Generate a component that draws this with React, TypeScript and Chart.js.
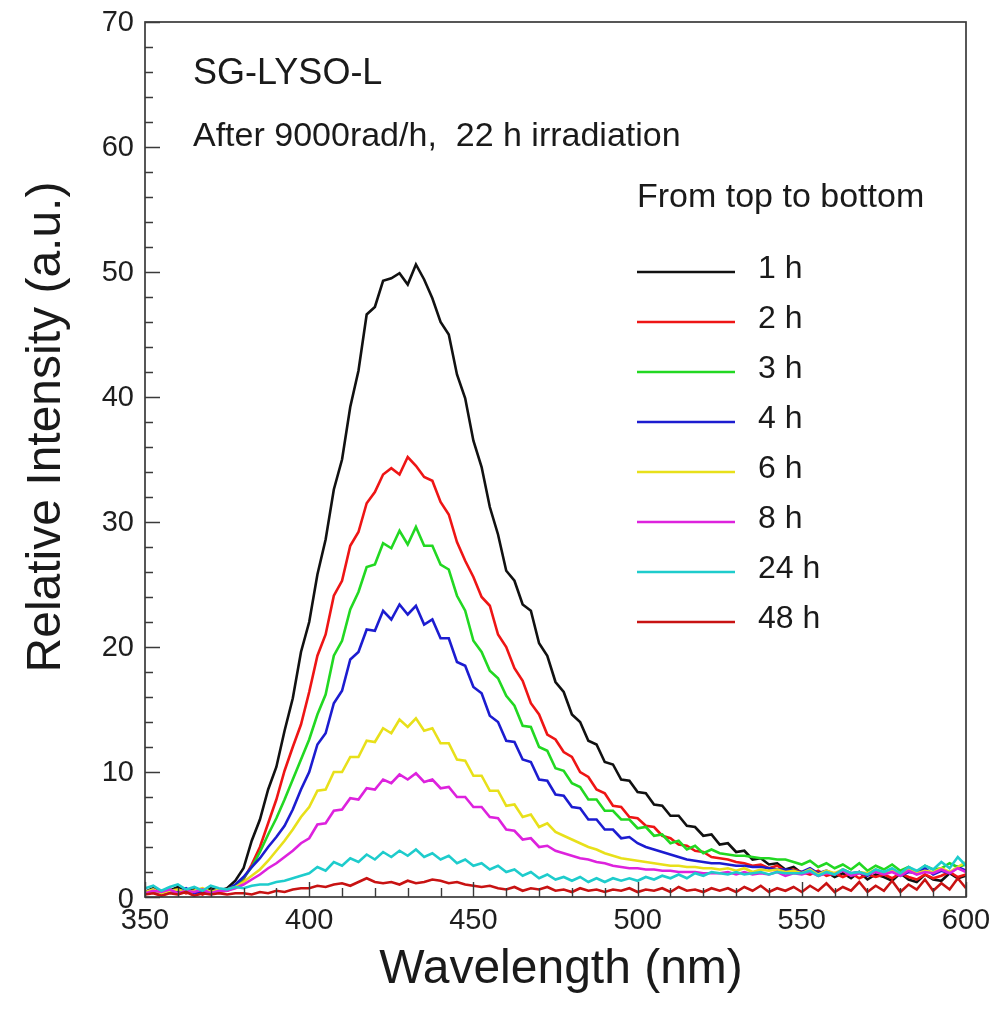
import React, { useEffect, useRef } from "react";
import { Chart, registerables } from "chart.js";

Chart.register(...registerables);

// Sampling grid (nm)
const wavelengths = [
  350, 352.5, 355, 357.5, 360, 362.5, 365, 367.5, 370, 372.5,
  375, 377.5, 380, 382.5, 385, 387.5, 390, 392.5, 395, 397.5,
  400, 402.5, 405, 407.5, 410, 412.5, 415, 417.5, 420, 422.5,
  425, 427.5, 430, 432.5, 435, 437.5, 440, 442.5, 445, 447.5,
  450, 452.5, 455, 457.5, 460, 462.5, 465, 467.5, 470, 472.5,
  475, 477.5, 480, 482.5, 485, 487.5, 490, 492.5, 495, 497.5,
  500, 502.5, 505, 507.5, 510, 512.5, 515, 517.5, 520, 522.5,
  525, 527.5, 530, 532.5, 535, 537.5, 540, 542.5, 545, 547.5,
  550, 552.5, 555, 557.5, 560, 562.5, 565, 567.5, 570, 572.5,
  575, 577.5, 580, 582.5, 585, 587.5, 590, 592.5, 595, 597.5, 600,
];

const h1 = [
  0.4, 0.7, 0.3, 0.5, 0.8, 0.4, 0.6, 0.3, 0.7, 0.5,
  0.7, 1.3, 2.3, 4.5, 6.2, 8.6, 10.4, 13.3, 15.9, 19.6,
  22.0, 25.8, 28.6, 32.6, 35.0, 39.2, 42.1, 46.6, 47.2, 49.3,
  49.5, 49.9, 49.0, 50.6, 49.4, 47.9, 46.0, 45.0, 41.8, 39.9,
  36.5, 34.4, 31.2, 29.0, 26.1, 25.3, 23.4, 22.9, 20.3, 19.3,
  17.2, 16.4, 14.6, 14.0, 12.5, 12.2, 10.8, 10.6, 9.4, 9.3,
  8.4, 8.3, 7.4, 7.3, 6.5, 6.5, 5.7, 5.6, 4.9, 5.0,
  4.2, 4.3, 3.6, 3.7, 3.0, 3.1, 2.6, 2.7, 2.2, 2.4,
  1.9, 2.2, 1.7, 2.0, 1.6, 1.9, 1.5, 2.0, 1.4, 1.8,
  1.6, 1.3, 1.9, 1.4, 1.2, 1.8, 1.4, 1.3, 1.9, 1.5, 1.7,
];

const h2 = [
  0.3, 0.5, 0.2, 0.4, 0.6, 0.3, 0.5, 0.2, 0.5, 0.4,
  0.5, 0.8, 1.4, 2.6, 4.0, 5.9, 7.8, 10.1, 12.0, 13.8,
  16.4, 19.3, 21.0, 24.1, 25.3, 28.1, 29.2, 31.5, 32.4, 33.8,
  34.3, 33.8, 35.2, 34.5, 33.6, 33.3, 31.6, 30.6, 28.4, 26.9,
  25.6, 24.0, 23.3, 21.0, 20.0, 18.3, 17.3, 15.5, 14.6, 13.0,
  12.6, 11.6, 11.2, 10.0, 9.6, 8.6, 8.3, 7.3, 7.2, 6.4,
  6.3, 5.7, 5.6, 4.9, 4.7, 4.2, 4.1, 3.7, 3.6, 3.2,
  3.1, 3.0, 2.8, 2.7, 2.5, 2.6, 2.3, 2.5, 2.1, 2.2,
  2.0, 1.8, 2.1, 1.7, 1.9, 1.6, 1.9, 1.5, 1.8, 1.6,
  1.8, 1.5, 1.9, 1.6, 1.4, 1.8, 1.5, 1.7, 2.0, 1.6, 1.8,
];

const h3 = [
  0.3, 0.5, 0.4, 0.6, 0.3, 0.5, 0.4, 0.6, 0.3, 0.5,
  0.6, 0.9, 1.5, 2.4, 3.6, 5.0, 6.3, 7.8, 9.4, 11.0,
  12.6, 14.6, 16.2, 19.3, 20.5, 23.0, 24.4, 26.4, 26.6, 28.3,
  27.9, 29.3, 28.2, 29.6, 28.1, 28.1, 26.6, 26.2, 24.1, 22.9,
  20.5, 19.6, 18.1, 17.5, 16.1, 15.3, 13.7, 13.6, 12.0, 11.7,
  10.3, 10.1, 9.1, 8.8, 7.8, 7.8, 6.9, 6.9, 6.2, 6.2,
  5.5, 5.6, 4.9, 5.0, 4.3, 4.5, 3.8, 4.1, 3.5, 3.8,
  3.5, 3.4, 3.3, 3.3, 3.2, 3.1, 3.1, 3.0, 3.0, 2.8,
  2.6, 2.9, 2.4, 2.7, 2.3, 2.6, 2.2, 2.7, 2.1, 2.5,
  2.2, 2.6, 2.1, 2.4, 2.0, 2.5, 2.2, 2.3, 2.7, 2.4, 2.6,
];

const h4 = [
  0.4, 0.6, 0.3, 0.5, 0.4, 0.7, 0.3, 0.5, 0.4, 0.6,
  0.6, 1.0, 1.6, 2.4, 3.1, 4.0, 4.8, 5.7, 7.0, 8.6,
  10.0, 12.2, 13.1, 15.5, 16.5, 19.0, 19.6, 21.4, 21.3, 22.9,
  22.2, 23.4, 22.6, 23.3, 21.8, 22.2, 20.7, 20.7, 18.8, 18.5,
  16.8, 16.3, 14.5, 14.0, 12.5, 12.4, 11.0, 10.8, 9.4, 9.3,
  8.2, 8.1, 7.2, 7.1, 6.2, 6.2, 5.4, 5.4, 4.7, 4.8,
  4.3, 4.0, 3.8, 3.6, 3.4, 3.2, 3.0, 2.9, 2.8, 2.7,
  2.7, 2.6, 2.5, 2.5, 2.4, 2.4, 2.3, 2.2, 2.2, 2.1,
  2.0, 2.3, 1.9, 2.1, 1.8, 2.2, 1.9, 2.0, 1.7, 2.1,
  1.9, 2.2, 1.7, 2.0, 1.9, 2.3, 1.8, 2.1, 1.9, 2.4, 2.1,
];

const h6 = [
  0.4, 0.6, 0.3, 0.5, 0.6, 0.4, 0.5, 0.7, 0.4, 0.6,
  0.6, 0.8, 1.2, 1.7, 2.2, 2.9, 3.7, 4.5, 5.4, 6.4,
  7.2, 8.5, 8.6, 10.0, 10.0, 11.2, 11.2, 12.5, 12.4, 13.5,
  13.1, 14.2, 13.6, 14.3, 13.3, 13.5, 12.3, 12.3, 11.0, 10.9,
  9.7, 9.7, 8.5, 8.5, 7.3, 7.4, 6.4, 6.6, 5.6, 5.9,
  5.2, 4.9, 4.6, 4.3, 4.0, 3.8, 3.5, 3.3, 3.1, 3.0,
  2.9, 2.8, 2.7, 2.6, 2.5, 2.5, 2.4, 2.4, 2.3, 2.3,
  2.2, 2.3, 2.1, 2.3, 2.0, 2.2, 2.1, 2.2, 2.0, 2.1,
  1.9, 2.2, 1.8, 2.1, 1.9, 2.2, 1.8, 2.0, 1.9, 2.2,
  1.9, 2.1, 1.8, 2.2, 1.9, 2.1, 2.0, 2.3, 2.0, 2.4, 2.8,
];

const h8 = [
  0.3, 0.5, 0.4, 0.6, 0.3, 0.5, 0.4, 0.6, 0.3, 0.5,
  0.5, 0.7, 1.0, 1.4, 1.8, 2.3, 2.7, 3.2, 3.7, 4.3,
  4.7, 5.8, 5.9, 6.9, 7.0, 7.9, 7.8, 8.7, 8.6, 9.4,
  9.1, 9.8, 9.4, 9.9, 9.2, 9.4, 8.7, 8.8, 8.0, 8.0,
  7.2, 7.2, 6.4, 6.3, 5.4, 5.3, 4.6, 4.7, 4.0, 4.1,
  3.7, 3.5, 3.3, 3.1, 3.0, 2.8, 2.7, 2.5, 2.4, 2.3,
  2.3, 2.2, 2.2, 2.1, 2.1, 2.0, 2.0, 2.0, 1.9, 1.9,
  1.9, 2.0, 1.8, 2.0, 1.8, 1.9, 1.8, 2.0, 1.7, 1.9,
  1.8, 2.0, 1.7, 1.9, 1.8, 2.1, 1.7, 1.9, 1.8, 2.0,
  1.8, 2.0, 1.7, 2.1, 1.8, 2.0, 1.9, 2.2, 1.9, 2.3, 2.0,
];

const h24 = [
  0.7, 0.9, 0.5, 0.8, 1.0, 0.6, 0.8, 0.5, 0.9, 0.7,
  0.6, 0.8, 0.7, 0.9, 1.0, 1.0, 1.2, 1.3, 1.5, 1.7,
  1.9, 2.4, 2.1, 2.8, 2.5, 3.1, 2.8, 3.4, 3.0, 3.6,
  3.2, 3.7, 3.3, 3.8, 3.2, 3.5, 3.0, 3.3, 2.7, 3.0,
  2.5, 2.7, 2.2, 2.5, 2.0, 2.2, 1.7, 2.0, 1.5, 1.8,
  1.4, 1.6, 1.3, 1.6, 1.2, 1.5, 1.2, 1.5, 1.3, 1.5,
  1.3, 1.6, 1.4, 1.7, 1.5, 1.8, 1.5, 1.9, 1.7, 2.0,
  1.9, 1.8, 2.0, 1.8, 1.9, 2.0, 1.8, 2.0, 1.9, 1.9,
  1.9, 2.1, 1.7, 2.0, 1.8, 2.2, 1.9, 2.0, 1.8, 2.2,
  2.0, 2.3, 1.9, 2.4, 2.1, 2.5, 2.2, 2.8, 2.3, 3.2, 2.5,
];

const h48 = [
  0.2, 0.3, 0.1, 0.3, 0.2, 0.4, 0.1, 0.3, 0.2, 0.3,
  0.2, 0.3, 0.3, 0.2, 0.4, 0.3, 0.5, 0.4, 0.6, 0.7,
  0.7, 0.9, 0.8, 1.0, 1.1, 0.9, 1.2, 1.5, 1.2, 1.1,
  1.2, 1.0, 1.3, 1.1, 1.2, 1.4, 1.3, 1.1, 1.2, 1.0,
  0.9, 0.8, 0.9, 0.7, 0.6, 0.8, 0.5, 0.7, 0.6, 0.8,
  0.5, 0.6, 0.4, 0.7, 0.5, 0.6, 0.4, 0.6, 0.5, 0.7,
  0.4, 0.6, 0.5, 0.7, 0.4, 0.8, 0.5, 0.6, 0.4, 0.7,
  0.5, 0.7, 0.4, 0.8, 0.5, 0.9, 0.4, 0.7, 0.5, 0.8,
  0.4, 0.9, 0.5, 1.1, 0.4, 0.8, 0.5, 1.2, 0.4, 0.9,
  0.5, 1.3, 0.4, 1.0, 0.6, 1.4, 0.5, 1.1, 0.6, 1.5, 0.7,
];

const seriesNames = ["1 h", "2 h", "3 h", "4 h", "6 h", "8 h", "24 h", "48 h"];
const seriesValues = [h1, h2, h3, h4, h6, h8, h24, h48];
const seriesColors = [
  "#111111",
  "#ee1515",
  "#22d822",
  "#1c1cd0",
  "#e8e01a",
  "#dd22dd",
  "#1ecccc",
  "#c81212",
];

const xTickValues = [350, 400, 450, 500, 550, 600];
const yTickValues = [0, 10, 20, 30, 40, 50, 60, 70];

const titleText = "SG-LYSO-L";
const subtitleText = "After 9000rad/h,  22 h irradiation";
const legendTitle = "From top to bottom";
const xTitle = "Wavelength (nm)";
const yTitle = "Relative Intensity (a.u.)";

const FONT = "'Liberation Sans', Arial, Helvetica, sans-serif";

const decorPlugin = {
  id: "decor",
  afterDatasetsDraw(chart: any) {
    const { ctx, chartArea: a, scales } = chart;
    const xs = scales.x;
    const ys = scales.y;
    ctx.save();

    // frame
    ctx.strokeStyle = "#3a3a3a";
    ctx.lineWidth = 1.7;
    ctx.strokeRect(a.left, a.top, a.right - a.left, a.bottom - a.top);

    // y ticks (inside)
    ctx.lineWidth = 1.4;
    ctx.beginPath();
    for (let v = 0; v <= 70; v += 2) {
      const py = Math.round(ys.getPixelForValue(v)) + 0.5;
      const len = v % 10 === 0 ? 15 : 8;
      ctx.moveTo(a.left, py);
      ctx.lineTo(a.left + len, py);
    }
    // x ticks (inside)
    for (let w = 350; w <= 600; w += 10) {
      const px = Math.round(xs.getPixelForValue(w)) + 0.5;
      const len = w % 50 === 0 ? 15 : 9;
      ctx.moveTo(px, a.bottom);
      ctx.lineTo(px, a.bottom - len);
    }
    ctx.stroke();

    // tick labels
    ctx.fillStyle = "#1e1e1e";
    ctx.font = `29px ${FONT}`;
    ctx.textAlign = "right";
    ctx.textBaseline = "middle";
    yTickValues.forEach((v) => {
      const py = ys.getPixelForValue(v) + (v === 0 ? 3 : 1);
      ctx.fillText(String(v), a.left - 11, py);
    });
    ctx.textAlign = "center";
    xTickValues.forEach((w) => {
      const px = xs.getPixelForValue(w);
      ctx.fillText(String(w), px, a.bottom + 24);
    });

    // annotations
    ctx.fillStyle = "#1a1a1a";
    ctx.textAlign = "left";
    ctx.textBaseline = "middle";
    ctx.font = `36px ${FONT}`;
    ctx.fillText(titleText, 193, 74);
    ctx.font = `34px ${FONT}`;
    ctx.fillText(subtitleText, 193, 137);
    ctx.fillText(legendTitle, 637, 198);

    // legend
    ctx.font = `32px ${FONT}`;
    seriesNames.forEach((name, i) => {
      const y = 272 + i * 50;
      ctx.strokeStyle = seriesColors[i];
      ctx.lineWidth = 2.5;
      ctx.beginPath();
      ctx.moveTo(637, y);
      ctx.lineTo(735, y);
      ctx.stroke();
      ctx.fillStyle = "#1a1a1a";
      ctx.fillText(name, 758, y - 3);
    });

    // axis titles
    ctx.font = `48px ${FONT}`;
    ctx.textAlign = "center";
    ctx.fillText(xTitle, 561, 970);
    ctx.save();
    ctx.translate(47, 427);
    ctx.rotate(-Math.PI / 2);
    ctx.fillText(yTitle, 0, 0);
    ctx.restore();

    ctx.restore();
  },
};

export default function App() {
  const canvasRef = useRef<HTMLCanvasElement | null>(null);

  useEffect(() => {
    const canvas = canvasRef.current;
    if (!canvas) return;
    const datasets = seriesNames.map((name, i) => ({
      label: name,
      data: wavelengths.map((w, j) => ({ x: w, y: seriesValues[i][j] })),
      borderColor: seriesColors[i],
      backgroundColor: seriesColors[i],
      borderWidth: 2.6,
      pointRadius: 0,
      tension: 0,
      order: seriesNames.length - 1 - i,
    }));

    const chart = new Chart(canvas, {
      type: "line",
      data: { datasets },
      options: {
        animation: false,
        responsive: false,
        devicePixelRatio: 1,
        layout: { padding: { top: 22, right: 26, left: 0, bottom: 0 } },
        plugins: {
          legend: { display: false },
          tooltip: { enabled: false },
          title: { display: false },
        },
        scales: {
          x: {
            type: "linear",
            min: 350,
            max: 600,
            afterFit: (s: any) => {
              s.height = 118;
            },
            afterBuildTicks: (s: any) => {
              s.ticks = xTickValues.map((v) => ({ value: v }));
            },
            grid: { display: false, drawTicks: false },
            border: { display: false },
            ticks: { display: false },
          },
          y: {
            type: "linear",
            min: 0,
            max: 70,
            afterFit: (s: any) => {
              s.width = 145;
            },
            afterBuildTicks: (s: any) => {
              s.ticks = yTickValues.map((v) => ({ value: v }));
            },
            grid: { display: false, drawTicks: false },
            border: { display: false },
            ticks: { display: false },
          },
        },
      },
      plugins: [decorPlugin],
    } as any);

    return () => chart.destroy();
  }, []);

  return (
    <div style={{ position: "absolute", left: 0, top: 0, width: 992, height: 1015, background: "#fff" }}>
      <canvas ref={canvasRef} width={992} height={1015} style={{ display: "block" }} />
    </div>
  );
}
